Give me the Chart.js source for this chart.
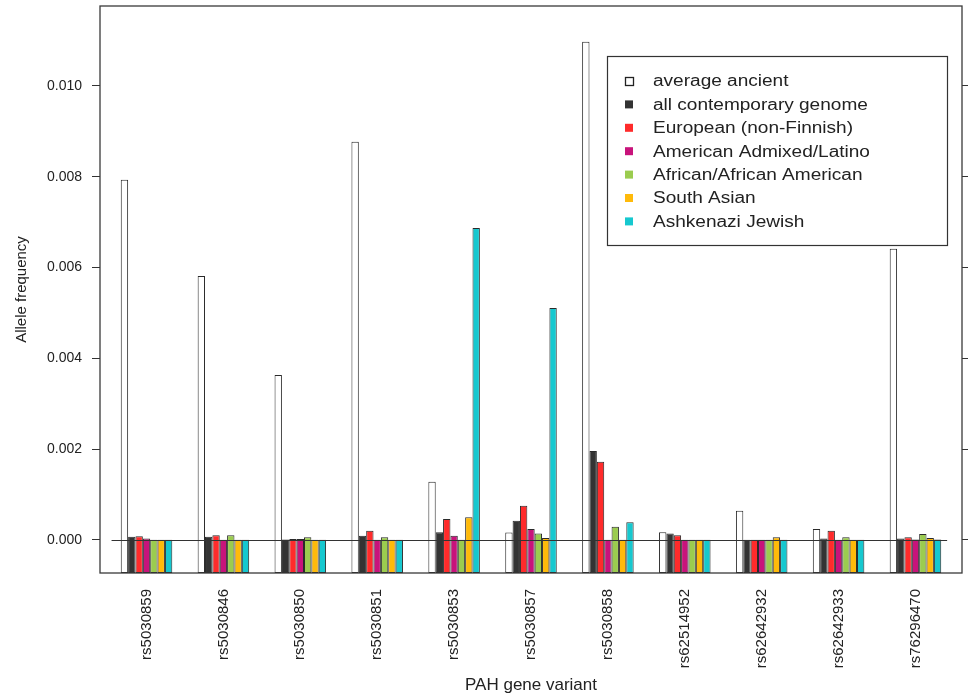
<!DOCTYPE html>
<html>
<head>
<meta charset="utf-8">
<script src="https://cdn.jsdelivr.net/npm/chart.js@4/dist/chart.umd.min.js"></script>
<style>
  html, body { margin: 0; padding: 0; background: #ffffff; }
  canvas { display: block; }
</style>
</head>
<body>
<canvas id="chart" width="968" height="698"></canvas>
<script>
// PAH gene variants on the x axis
const VARIANTS = ['rs5030859', 'rs5030846', 'rs5030850', 'rs5030851', 'rs5030853', 'rs5030857',
                  'rs5030858', 'rs62514952', 'rs62642932', 'rs62642933', 'rs76296470'];

// allele frequency per population, one value per variant
const AVERAGE_ANCIENT   = [0.00793, 0.00581, 0.00363, 0.00877, 0.00128, 0.00016, 0.01097, 0.00017, 0.00064, 0.00024, 0.00641];
const ALL_CONTEMPORARY  = [0.00007, 0.00007, 0.00001, 0.00009, 0.00017, 0.00042, 0.00196, 0.00014, 0.00000, 0.00003, 0.00003];
const EUROPEAN_NF       = [0.00008, 0.00010, 0.00002, 0.00020, 0.00046, 0.00075, 0.00172, 0.00010, 0.00000, 0.00020, 0.00006];
const AMERICAN_LATINO   = [0.00003, 0.00000, 0.00002, 0.00000, 0.00009, 0.00024, 0.00000, 0.00000, 0.00000, 0.00000, 0.00001];
const AFRICAN           = [0.00000, 0.00010, 0.00006, 0.00006, 0.00000, 0.00014, 0.00029, 0.00000, 0.00000, 0.00006, 0.00013];
const SOUTH_ASIAN       = [0.00000, 0.00000, 0.00000, 0.00000, 0.00050, 0.00004, 0.00000, 0.00000, 0.00006, 0.00000, 0.00004];
const ASHKENAZI_JEWISH  = [0.00000, 0.00000, 0.00000, 0.00000, 0.00687, 0.00511, 0.00039, 0.00000, 0.00000, 0.00000, 0.00001];

// y-axis tick values
const Y_TICKS = [0.000, 0.002, 0.004, 0.006, 0.008, 0.010];

const SERIES_LABELS = ['average ancient', 'all contemporary genome', 'European (non-Finnish)',
                       'American Admixed/Latino', 'African/African American', 'South Asian', 'Ashkenazi Jewish'];
const SERIES_VALUES = [AVERAGE_ANCIENT, ALL_CONTEMPORARY, EUROPEAN_NF, AMERICAN_LATINO,
                       AFRICAN, SOUTH_ASIAN, ASHKENAZI_JEWISH];
const SERIES_COLORS = ['#ffffff', '#333333', '#ff2b2b', '#c8137b', '#9bcc4f', '#ffba0a', '#16c8cf'];

const Y_MIN = -0.00073;
const Y_MAX = 0.01176;
const X_MIN = -0.605;
const X_MAX = VARIANTS.length - 1 + 0.605;

const FONT = "'Liberation Sans', Arial, Helvetica, sans-serif";
const INK = '#222222';

const datasets = SERIES_VALUES.map((vals, s) => ({
  label: SERIES_LABELS[s],
  data: vals.map((v, i) => ({ x: i, y: v })),
  backgroundColor: SERIES_COLORS[s],
  borderColor: '#2a2a2a',
  borderWidth: 1,
  borderSkipped: false,
  base: Y_MIN,
  categoryPercentage: 0.67,
  barPercentage: 1.0
}));

function zeroLineExtent(chart) {
  const first = chart.getDatasetMeta(0).data[0];
  const lastMeta = chart.getDatasetMeta(chart.data.datasets.length - 1);
  const last = lastMeta.data[lastMeta.data.length - 1];
  return [first.x - first.width / 2 - first.width * 1.25,
          last.x + last.width / 2 + last.width * 0.8];
}

// box around the plotting region and the zero reference line
const framePlugin = {
  id: 'frame',
  afterDatasetsDraw(chart) {
    const { ctx, scales } = chart;
    const y0 = Math.round(scales.y.getPixelForValue(0)) + 0.5;
    const [x1, x2] = zeroLineExtent(chart);
    ctx.save();
    ctx.strokeStyle = '#333333';
    ctx.lineWidth = 1;
    ctx.beginPath();
    ctx.moveTo(x1, y0);
    ctx.lineTo(x2, y0);
    ctx.stroke();
    const a = chart.chartArea;
    ctx.lineWidth = 1.3;
    ctx.strokeStyle = '#3a3a3a';
    ctx.strokeRect(a.left, a.top, a.right - a.left, a.bottom - a.top);
    ctx.restore();
  }
};

// boxed legend placed in the upper right of the plot
const boxLegendPlugin = {
  id: 'boxLegend',
  afterDraw(chart) {
    const { ctx } = chart;
    const a = chart.chartArea;
    const boxLeft = a.left + 507, boxTop = a.top + 50;
    const boxW = 340, boxH = 189;
    ctx.save();
    ctx.fillStyle = '#ffffff';
    ctx.fillRect(boxLeft, boxTop, boxW, boxH);
    ctx.strokeStyle = '#333333';
    ctx.lineWidth = 1.2;
    ctx.strokeRect(boxLeft + 0.5, boxTop + 0.5, boxW, boxH);
    ctx.font = '16px ' + FONT;
    ctx.textBaseline = 'middle';
    ctx.textAlign = 'left';
    chart.data.datasets.forEach((ds, i) => {
      const cy = boxTop + 25 + i * 23.4;
      const mx = boxLeft + 18;
      if (i === 0) {
        ctx.fillStyle = '#ffffff';
        ctx.fillRect(mx, cy - 4, 8, 8);
        ctx.strokeStyle = '#222222';
        ctx.lineWidth = 1.3;
        ctx.strokeRect(mx + 0.5, cy - 3.5, 8, 8);
      } else {
        ctx.fillStyle = ds.backgroundColor;
        ctx.fillRect(mx, cy - 4, 8, 8);
      }
      // legend lettering is set slightly wide
      ctx.save();
      ctx.translate(boxLeft + 46, cy + 1);
      ctx.scale(1.19, 1);
      ctx.fillStyle = INK;
      ctx.fillText(ds.label, 0, 0);
      ctx.restore();
    });
    ctx.restore();
  }
};

new Chart(document.getElementById('chart'), {
  type: 'bar',
  data: { datasets },
  plugins: [framePlugin, boxLegendPlugin],
  options: {
    responsive: false,
    animation: false,
    devicePixelRatio: 1,
    layout: { padding: { top: 6, left: 0, right: 0, bottom: 0 } },
    plugins: {
      legend: { display: false },
      tooltip: { enabled: false }
    },
    scales: {
      x: {
        type: 'linear',
        min: X_MIN,
        max: X_MAX,
        offset: false,
        grid: { display: false, drawTicks: false },
        border: { display: false },
        afterBuildTicks(scale) {
          scale.ticks = VARIANTS.map((_, i) => ({ value: i }));
        },
        afterFit(scale) {
          scale.height = 125;
          scale.paddingLeft = 0;
          scale.paddingRight = 0;
        },
        ticks: {
          autoSkip: false,
          minRotation: 90,
          maxRotation: 90,
          padding: 16,
          color: INK,
          font: { family: FONT, size: 15 },
          callback: (v) => VARIANTS[v] ?? ''
        },
        title: {
          display: true,
          text: 'PAH gene variant',
          color: INK,
          font: { family: FONT, size: 17 },
          padding: { top: 0, bottom: 2 }
        }
      },
      y: {
        type: 'linear',
        position: 'left',
        min: Y_MIN,
        max: Y_MAX,
        afterBuildTicks(scale) {
          scale.ticks = Y_TICKS.map(v => ({ value: v }));
        },
        afterFit(scale) {
          scale.width = 100;
          scale.paddingTop = 0;
          scale.paddingBottom = 0;
        },
        grid: { drawOnChartArea: false, drawTicks: true, tickLength: 8, color: '#333333', lineWidth: 1 },
        border: { display: false },
        ticks: {
          padding: 10,
          color: INK,
          font: { family: FONT, size: 14 },
          callback: (v) => Number(v).toFixed(3)
        },
        title: {
          display: true,
          text: 'Allele frequency',
          color: INK,
          font: { family: FONT, size: 15 },
          padding: { top: 13, bottom: 0 }
        }
      },
      y2: {
        type: 'linear',
        position: 'right',
        min: Y_MIN,
        max: Y_MAX,
        afterBuildTicks(scale) {
          scale.ticks = Y_TICKS.map(v => ({ value: v }));
        },
        afterFit(scale) {
          scale.width = 6;
          scale.paddingTop = 0;
          scale.paddingBottom = 0;
        },
        grid: { drawOnChartArea: false, drawTicks: true, tickLength: 6, color: '#333333', lineWidth: 1 },
        border: { display: false },
        ticks: { display: false }
      }
    }
  }
});
</script>
</body>
</html>
